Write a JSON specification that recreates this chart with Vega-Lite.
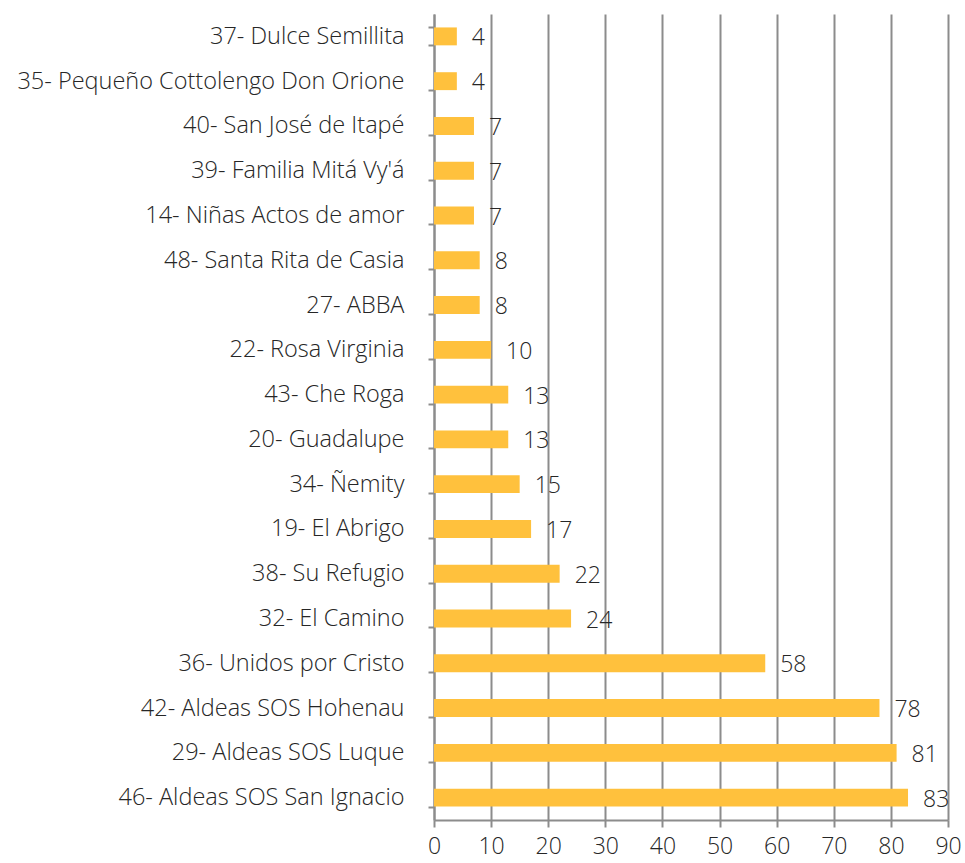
{
  "$schema": "https://vega.github.io/schema/vega-lite/v6.json",
  "autosize": {"type": "none"},
  "padding": {"left": 434, "top": 14, "right": 17, "bottom": 43},
  "width": 514,
  "height": 806,
  "background": "white",
  "config": {"view": {"stroke": null}, "font": "Open Sans"},
  "data": {"values": [
    {"name": "37- Dulce Semillita", "value": 4},
    {"name": "35- Pequeño Cottolengo Don Orione", "value": 4},
    {"name": "40- San José de Itapé", "value": 7},
    {"name": "39- Familia Mitá Vy'á", "value": 7},
    {"name": "14- Niñas Actos de amor", "value": 7},
    {"name": "48- Santa Rita de Casia", "value": 8},
    {"name": "27- ABBA", "value": 8},
    {"name": "22- Rosa Virginia", "value": 10},
    {"name": "43- Che Roga", "value": 13},
    {"name": "20- Guadalupe", "value": 13},
    {"name": "34- Ñemity", "value": 15},
    {"name": "19- El Abrigo", "value": 17},
    {"name": "38- Su Refugio", "value": 22},
    {"name": "32- El Camino", "value": 24},
    {"name": "36- Unidos por Cristo", "value": 58},
    {"name": "42- Aldeas SOS Hohenau", "value": 78},
    {"name": "29- Aldeas SOS Luque", "value": 81},
    {"name": "46- Aldeas SOS San Ignacio", "value": 83}
  ]},
  "encoding": {
    "y": {
      "field": "name", "type": "nominal", "sort": null, "title": null,
      "scale": {"paddingInner": 0.6, "paddingOuter": 0.3},
      "axis": {
        "tickBand": "extent", "domainColor": "#8c8c8c", "domainWidth": 2,
        "tickColor": "#8c8c8c", "tickWidth": 2, "tickSize": 6,
        "labelFontSize": 23.5, "labelFontWeight": 300, "labelColor": "#262626", "labelPadding": 24,
        "labelLimit": 500
      }
    },
    "x": {
      "field": "value", "type": "quantitative", "title": null,
      "scale": {"domain": [0, 90], "nice": false},
      "axis": {
        "values": [0, 10, 20, 30, 40, 50, 60, 70, 80, 90],
        "labelFlush": false,
        "grid": true, "gridColor": "#8c8c8c", "gridWidth": 2, "gridOpacity": 1,
        "domainColor": "#8c8c8c", "domainWidth": 2,
        "tickColor": "#8c8c8c", "tickWidth": 2, "tickSize": 7,
        "labelFontSize": 23, "labelFontWeight": 300, "labelColor": "#262626", "labelPadding": 8
      }
    }
  },
  "layer": [
    {"mark": {"type": "bar", "color": "#FFC13D"}},
    {"mark": {"type": "text", "align": "left", "dx": 15, "dy": 2, "fontSize": 23, "fontWeight": 300, "color": "#262626"},
     "encoding": {"text": {"field": "value", "type": "quantitative"}}}
  ]
}
